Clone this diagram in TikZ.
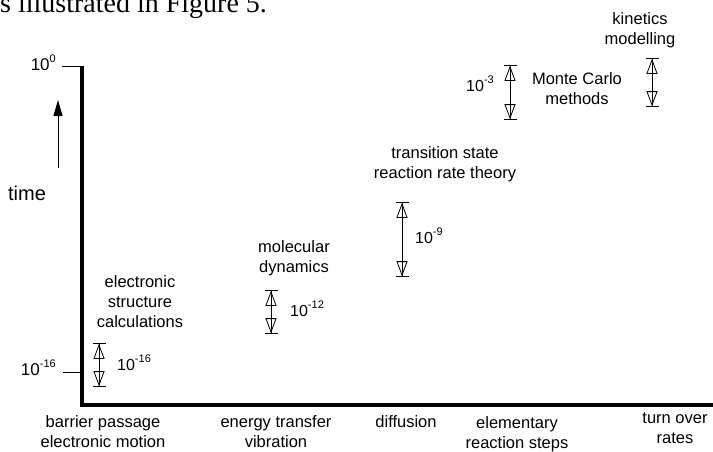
\documentclass[tikz,border=0pt]{standalone}
\usepackage{fontspec}
\setmainfont{Liberation Sans}
\newfontfamily\capfont{Liberation Serif}
\usetikzlibrary{arrows.meta}
\newcommand\myexp[1]{\raisebox{0.45em}{\fontsize{11}{11}\selectfont #1}}
\begin{document}
\begin{tikzpicture}[x=1pt,y=-1pt,
  lbl/.style={font=\fontsize{16.5}{20}\selectfont, align=center, anchor=base, inner sep=0pt},
  val/.style={font=\fontsize{16}{20}\selectfont, anchor=base west, inner sep=0pt},
  tlbl/.style={font=\fontsize{17}{18}\selectfont, anchor=base east, inner sep=0pt},
  axisline/.style={line width=3.6pt, line join=miter},
  tickline/.style={line width=0.8pt},
  spanarrow/.style={line width=0.8pt,
    {Bar[width=13pt]Triangle[open,length=15pt,width=11pt]}-{Triangle[open,length=15pt,width=11pt]Bar[width=13pt]}},
  timearrow/.style={line width=1pt, -{Triangle[length=16pt,width=9pt]}}
]
\useasboundingbox (0,0) rectangle (713,451);
\clip (0,0) rectangle (713,451);

% cut-off caption line
\node[font=\capfont\fontsize{28}{30}\selectfont, anchor=base west, inner sep=0pt] (cap) at (0,12) {s illustrated in Figure 5.};

% axes
\coordinate (Ytop) at (82,66);
\coordinate (O) at (82,405);
\coordinate (Xend) at (713,405);
\draw[axisline] (Ytop) -- (O) -- (Xend);

% ticks
\coordinate (t0a) at (62,66);
\coordinate (t0b) at (80,66);
\coordinate (t16a) at (63,372);
\coordinate (t16b) at (80,372);
\draw[tickline] (t0a) -- (t0b);
\draw[tickline] (t16a) -- (t16b);
\node[tlbl] (l0) at (56,70) {10\myexp{0}};
\node[tlbl] (l16) at (56,375) {10\myexp{-16}};

% time arrow
\coordinate (ta) at (58,168);
\coordinate (tb) at (58,100);
\draw[timearrow] (ta) -- (tb);
\node[font=\fontsize{20}{22}\selectfont, anchor=base, inner sep=0pt] (time) at (27,200) {time};

% bottom labels (anchor = baseline of last line)
\node[lbl] (b1) at (103,447) {barrier passage\\electronic motion};
\node[lbl] (b2) at (276,447) {energy transfer\\vibration};
\node[lbl] (b3) at (406,427) {diffusion};
\node[lbl] (b4) at (517,448) {elementary\\reaction steps};
\node[lbl] (b5) at (675,443) {turn over\\rates};

% method labels
\node[lbl] (es) at (140,327) {electronic\\structure\\calculations};
\node[lbl] (md) at (294,272) {molecular\\dynamics};
\node[lbl] (ts) at (445,178) {transition state\\reaction rate theory};
\node[lbl] (mc) at (577,104) {Monte Carlo\\methods};
\node[lbl] (km) at (640,44) {kinetics\\modelling};

% span arrows
\coordinate (a1t) at (99,343);
\coordinate (a1b) at (99,387);
\draw[spanarrow] (a1t) -- (a1b);
\node[val] (v1) at (117,370) {10\myexp{-16}};

\coordinate (a2t) at (271,290);
\coordinate (a2b) at (271,334);
\draw[spanarrow] (a2t) -- (a2b);
\node[val] (v2) at (290,316) {10\myexp{-12}};

\coordinate (a3t) at (402,202);
\coordinate (a3b) at (402,277);
\draw[spanarrow] (a3t) -- (a3b);
\node[val] (v3) at (415,243) {10\myexp{-9}};

\coordinate (a4t) at (510,65);
\coordinate (a4b) at (510,120);
\draw[spanarrow] (a4t) -- (a4b);
\node[val, anchor=base east] (v4) at (494,91) {10\myexp{-3}};

\coordinate (a5t) at (652,58);
\coordinate (a5b) at (652,107);
\draw[spanarrow] (a5t) -- (a5b);
\end{tikzpicture}
\end{document}
